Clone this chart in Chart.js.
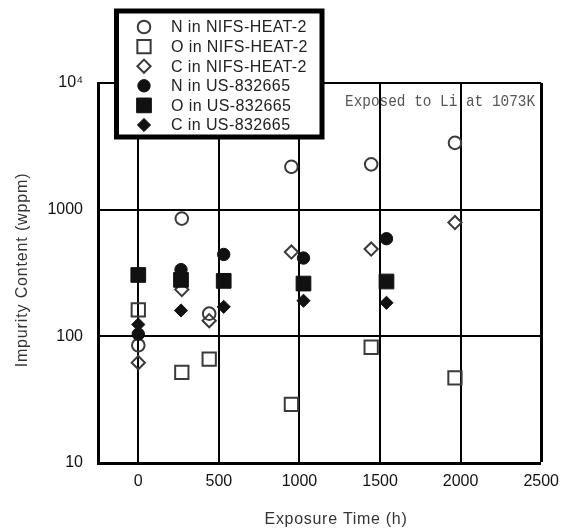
<!DOCTYPE html>
<html><head><meta charset="utf-8">
<script src="https://cdn.jsdelivr.net/npm/chart.js@4/dist/chart.umd.min.js"></script>
<style>html,body{margin:0;padding:0;background:#fff}#wrap{width:568px;height:531px;position:relative}</style>
</head><body><div id="wrap"><canvas id="c"></canvas></div>
<script>
// ---- data ----
const seriesLabels = ['N in NIFS-HEAT-2','O in NIFS-HEAT-2','C in NIFS-HEAT-2','N in US-832665','O in US-832665','C in US-832665'];
const nifsTimes = [0, 270, 440, 950, 1445, 1965];
const nNifs = [85, 850, 151, 2180, 2280, 3370];
const oNifs = [162, 52, 66, 29, 82, 47];
const cNifs = [62, 234, 133, 463, 489, 791];
const usTimes = [0, 265, 530, 1025, 1540];
const nUs = [104, 336, 443, 415, 590];
const oUs = [305, 279, 274, 261, 271];
const cUs = [124, 160, 171, 191, 184];
const xTicks = [-250, 0, 500, 1000, 1500, 2000, 2500];
const xTickLabels = ['', '0', '500', '1000', '1500', '2000', '2500'];
const yTicks = [10, 100, 1000, 10000];
const yTickLabels = ['10', '100', '1000', '10\u2074'];
const annotationText = 'Exposed to Li at 1073K';
const xTitle = 'Exposure Time (h)';
const yTitle = 'Impurity Content (wppm)';

const SANS = '"Liberation Sans", Arial, sans-serif';
const hollow = '#3a3a3a', solid = '#111';

function pts(xs, ys){ return xs.map((x,i)=>({x:x, y:ys[i]})); }

const markerStyles = [
  {style:'circle', r:6.3, filled:false},
  {style:'rect', r:9.4, filled:false},
  {style:'rectRot', r:6.6, filled:false},
  {style:'circle', r:6.2, filled:true},
  {style:'rect', r:10.4, filled:true},
  {style:'rectRot', r:6.6, filled:true}
];
const seriesData = [pts(nifsTimes,nNifs), pts(nifsTimes,oNifs), pts(nifsTimes,cNifs), pts(usTimes,nUs), pts(usTimes,oUs), pts(usTimes,cUs)];

const datasets = seriesData.map((d,i)=>{
  const m = markerStyles[i];
  return {
    label: seriesLabels[i], data: d, order: m.filled ? 1 : 2,
    pointStyle: m.style, pointRadius: m.r,
    pointBorderWidth: m.filled ? 1 : 2,
    pointBorderColor: m.filled ? solid : hollow,
    pointBackgroundColor: m.filled ? solid : 'rgba(0,0,0,0)',
    showLine: false
  };
});

function drawMarker(ctx, m, x, y){
  ctx.beginPath();
  if (m.style === 'circle') ctx.arc(x, y, m.r, 0, Math.PI*2);
  else if (m.style === 'rect'){ const h = m.r*Math.SQRT1_2; ctx.rect(x-h, y-h, 2*h, 2*h); }
  else { ctx.moveTo(x-m.r, y); ctx.lineTo(x, y-m.r); ctx.lineTo(x+m.r, y); ctx.lineTo(x, y+m.r); ctx.closePath(); }
  if (m.filled){ ctx.fillStyle = solid; ctx.fill(); ctx.lineWidth = 1; ctx.strokeStyle = solid; ctx.stroke(); }
  else { ctx.lineWidth = 2; ctx.strokeStyle = hollow; ctx.stroke(); }
}

const overlay = {
  id: 'overlay',
  beforeDraw(chart){
    const ctx = chart.ctx;
    ctx.save();
    ctx.fillStyle = '#555';
    ctx.font = '17px "Liberation Mono", "DejaVu Sans Mono", monospace';
    ctx.textBaseline = 'alphabetic';
    ctx.translate(345, 106);
    ctx.scale(0.847, 1);
    ctx.fillText(annotationText, 0, 0);
    ctx.restore();
  },
  afterDraw(chart){
    const ctx = chart.ctx;
    const ca = chart.chartArea;
    ctx.save();
    // axis titles
    ctx.fillStyle = '#333';
    ctx.font = '16px ' + SANS;
    try { ctx.letterSpacing = '0.7px'; } catch(e){}
    ctx.textAlign = 'center';
    ctx.textBaseline = 'alphabetic';
    ctx.fillText(xTitle, 336, 524);
    ctx.save();
    ctx.translate(27, (ca.top + ca.bottom)/2 - 3);
    ctx.rotate(-Math.PI/2);
    try { ctx.letterSpacing = '0.85px'; } catch(e){}
    ctx.fillText(yTitle, 0, 0);
    ctx.restore();
    // legend box
    ctx.fillStyle = '#fff';
    ctx.fillRect(116.5, 11, 205.5, 126);
    ctx.lineWidth = 5;
    ctx.strokeStyle = '#000';
    ctx.strokeRect(116.5, 11, 205.5, 126);
    try { ctx.letterSpacing = '0.4px'; } catch(e){}
    ctx.font = '16px ' + SANS;
    ctx.textAlign = 'left';
    ctx.textBaseline = 'middle';
    for (let i = 0; i < seriesLabels.length; i++){
      const y = 27 + i*19.6;
      drawMarker(ctx, markerStyles[i], 144, y);
      ctx.fillStyle = '#222';
      ctx.fillText(seriesLabels[i], 171, y + 1);
    }
    ctx.restore();
  }
};

new Chart(document.getElementById('c'), {
  type: 'scatter',
  data: { datasets: datasets },
  options: {
    responsive: true, maintainAspectRatio: false, animation: false, events: [],
    layout: { padding: { top: 83, right: 23, left: 0, bottom: 0 } },
    plugins: { legend: { display: false }, tooltip: { enabled: false } },
    scales: {
      x: {
        type: 'linear', min: -250, max: 2500,
        afterBuildTicks: s => { s.ticks = xTicks.map(v => ({value: v})); },
        afterFit: s => { s.height = 68; },
        ticks: { callback: (v, i) => xTickLabels[i], font: { family: SANS, size: 16 }, color: '#111', padding: 9, maxRotation: 0, autoSkip: false },
        grid: { color: '#000', drawTicks: false, lineWidth: c => (c.tick && c.tick.value === 2500) ? 3 : ((c.tick && c.tick.value === -250) ? 0 : 2) },
        border: { display: true, color: '#000', width: 3 }
      },
      y: {
        type: 'logarithmic', min: 10, max: 10000,
        afterBuildTicks: s => { s.ticks = yTicks.map(v => ({value: v})); },
        afterFit: s => { s.width = 98; },
        ticks: { callback: (v, i) => yTickLabels[i], font: { family: SANS, size: 16 }, color: '#111', padding: 15, autoSkip: false },
        grid: { color: '#000', drawTicks: false, lineWidth: c => (c.tick && c.tick.value === 10) ? 0 : 2 },
        border: { display: true, color: '#000', width: 3 }
      }
    }
  },
  plugins: [overlay]
});
</script></body></html>
